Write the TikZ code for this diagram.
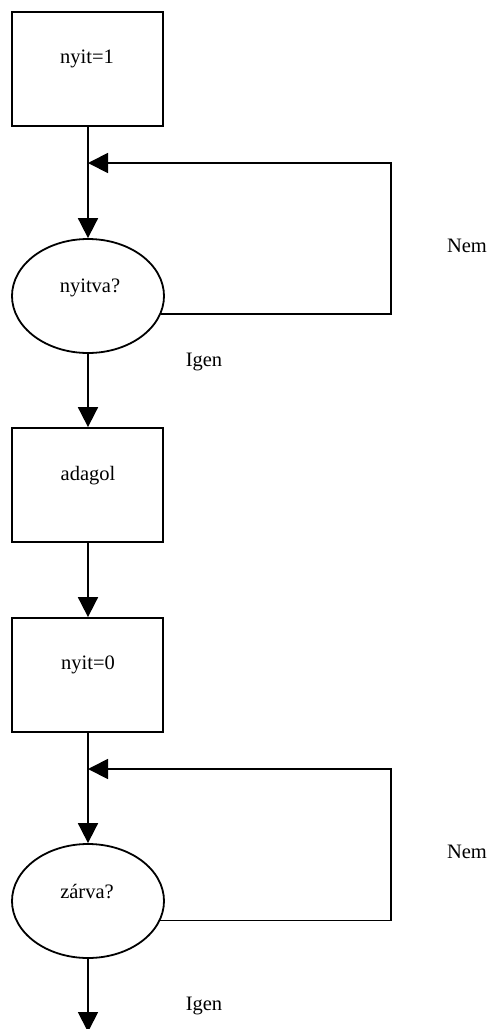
\documentclass[tikz,border=0pt]{standalone}
\usepackage{fontspec}
\setmainfont{Liberation Serif}
\usetikzlibrary{arrows.meta,shapes.geometric}
\begin{document}
\begin{tikzpicture}[x=1pt,y=-1pt,
  line width=1.8pt,
  boxnode/.style={draw,rectangle,minimum width=151pt,minimum height=114pt,inner sep=0pt},
  decnode/.style={draw,ellipse,minimum width=152pt,minimum height=114pt,inner sep=0pt},
  txt/.style={anchor=base,inner sep=0pt,font=\fontsize{20.5pt}{24pt}\selectfont},
  arr/.style={-{Triangle[length=20pt,width=20pt]}}]
\useasboundingbox (0,0) rectangle (488,1029);
% shapes
\node[boxnode] (b1) at (87.5,69) {};
\node[decnode] (e1) at (88,296) {};
\node[boxnode] (b2) at (87.5,485) {};
\node[boxnode] (b3) at (87.5,675) {};
\node[decnode] (e2) at (88,901) {};
% texts
\node[txt] (t1) at (87,63) {nyit=1};
\node[txt] (t2) at (90,292.7) {nyitva?};
\node[txt] (t3) at (88,480.7) {adagol};
\node[txt] (t4) at (88,669) {nyit=0};
\node[txt] (t5) at (87,898) {zárva?};
\node[txt] (nem1) at (467,252.7) {Nem};
\node[txt] (igen1) at (204,366) {Igen};
\node[txt] (nem2) at (467,858) {Nem};
\node[txt] (igen2) at (204,1010) {Igen};
% coordinates
\coordinate (j1) at (88,163);
\coordinate (r1) at (390.7,163);
\coordinate (j2) at (88,769);
\coordinate (r2) at (390.7,769);
\coordinate (end) at (88,1032);
% connectors
\draw[arr] (b1.south -| j1) -- (e1.north);
\draw[arr] (e1.-14) -| (r1) -- (j1);
\draw[arr] (e1.south) -- (b2.north -| e1.south);
\draw[arr] (b2.south -| e1.south) -- (b3.north -| e1.south);
\draw[arr] (b3.south -| j2) -- (e2.north);
\draw[arr] (e2.-15) -| (r2) -- (j2);
\draw[arr] (e2.south) -- (end);
\end{tikzpicture}
\end{document}
